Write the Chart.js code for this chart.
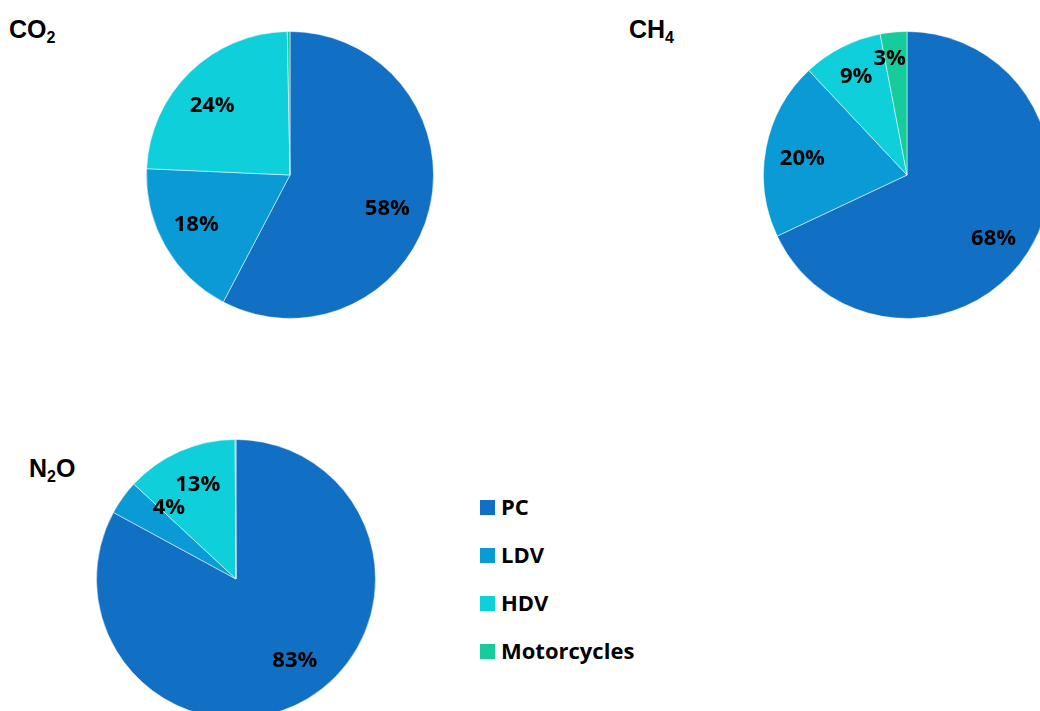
<!DOCTYPE html>
<html lang="en">
<head>
<meta charset="UTF-8">
<title>Emissions by vehicle category</title>
<script src="https://cdn.jsdelivr.net/npm/chart.js"></script>
<style>
  * { margin: 0; padding: 0; box-sizing: border-box; }
  html, body { width: 1040px; height: 711px; overflow: hidden; background: #fff; }
  body { position: relative; font-family: 'Liberation Sans', Arial, sans-serif; }
  .title { position: absolute; font-weight: bold; font-size: 25px; color: #000; line-height: 1; }
  .title sub { font-size: 16px; vertical-align: -5px; }
  .pie { position: absolute; }
  .legend { position: absolute; left: 480px; top: 491px; font-family: 'Open Sans', sans-serif; font-weight: bold; font-size: 22px; }
  .legend div { height: 48px; display: flex; align-items: flex-start; }
  .legend span.box { width: 15px; height: 15px; margin-top: 9px; margin-right: 6px; }
</style>
</head>
<body>
<div class="title" style="left:9px; top:17px;">CO<sub>2</sub></div>
<div class="title" style="left:629px; top:17px;">CH<sub>4</sub></div>
<div class="title" style="left:29px; top:456px;">N<sub>2</sub>O</div>

<div class="pie" style="left:146px; top:31px; width:288px; height:288px;"><canvas id="co2"></canvas></div>
<div class="pie" style="left:763px; top:31px; width:288px; height:288px;"><canvas id="ch4"></canvas></div>
<div class="pie" style="left:96px; top:439px; width:280px; height:280px;"><canvas id="n2o"></canvas></div>

<div class="legend" id="legend"></div>

<script>
const categories = ['PC', 'LDV', 'HDV', 'Motorcycles'];
const colors = ['#1170c4', '#0a9bd7', '#0fd0da', '#17cc9b'];

// shares in percent
const co2Values = [57.7, 18.0, 24.0, 0.3];
const ch4Values = [68, 20, 9, 3];
const n2oValues = [83, 4, 13, 0.1];

// draws the "58%" style labels inside the slices
const sliceLabels = {
  id: 'sliceLabels',
  afterDatasetsDraw(chart, args, opts) {
    const ctx = chart.ctx;
    const data = chart.data.datasets[0].data;
    const meta = chart.getDatasetMeta(0);
    const tweaks = opts.tweaks || {};
    ctx.save();
    ctx.font = 'bold 22px "Open Sans", sans-serif';
    ctx.fillStyle = '#000';
    ctx.textAlign = 'center';
    ctx.textBaseline = 'alphabetic';
    meta.data.forEach((arc, i) => {
      if (data[i] < 1) return;
      // [radius fraction, angle shift in degrees]
      const t = tweaks[i] || [0.735, 0];
      const mid = (arc.startAngle + arc.endAngle) / 2 + t[1] * Math.PI / 180;
      const r = arc.outerRadius * t[0];
      ctx.fillText(Math.round(data[i]) + '%', arc.x + Math.cos(mid) * r, arc.y + Math.sin(mid) * r + 8);
    });
    ctx.restore();
  }
};

function makePie(id, values, tweaks) {
  return new Chart(document.getElementById(id), {
    type: 'pie',
    data: {
      labels: categories,
      datasets: [{
        data: values,
        backgroundColor: colors,
        borderColor: 'rgba(255,255,255,0.5)',
        borderWidth: 1
      }]
    },
    options: {
      responsive: true,
      maintainAspectRatio: false,
      animation: false,
      layout: { padding: 0 },
      plugins: {
        legend: { display: false },
        tooltip: { enabled: false },
        sliceLabels: { tweaks: tweaks }
      }
    },
    plugins: [sliceLabels]
  });
}

const legend = document.getElementById('legend');
categories.forEach((c, i) => {
  const row = document.createElement('div');
  row.innerHTML = '<span class="box" style="background:' + colors[i] + '"></span><span>' + c + '</span>';
  legend.appendChild(row);
});

document.fonts.load('bold 22px "Open Sans"').then(() => {
  makePie('co2', co2Values, { 0: [0.715, 4.6], 1: [0.735, 2.6], 2: [0.735, -3.3] });
  makePie('ch4', ch4Values, { 0: [0.74, 3], 1: [0.74, -1], 2: [0.78, 0], 3: [0.83, -3] });
  makePie('n2o', n2oValues, { 0: [0.71, -5.7], 1: [0.71, 11.6], 2: [0.74, 2] });
});
</script>
</body>
</html>
